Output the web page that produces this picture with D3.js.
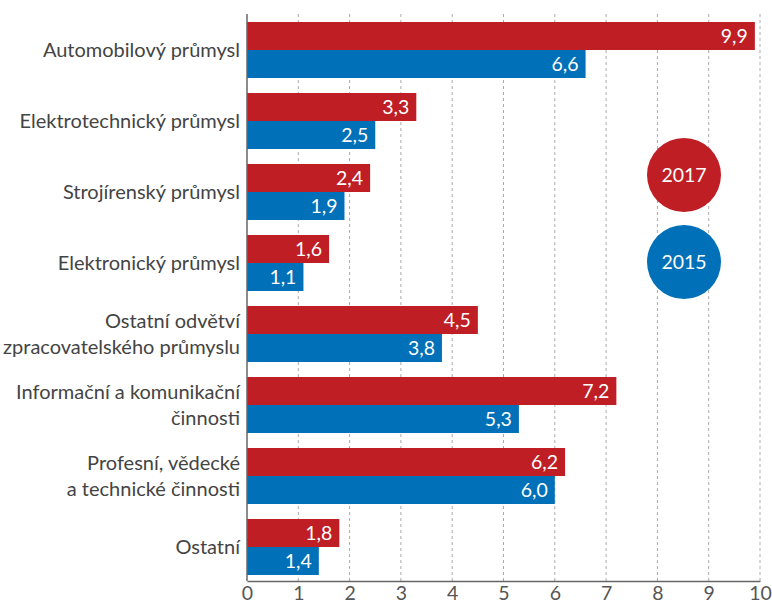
<!DOCTYPE html>
<html><head><meta charset="utf-8">
<script src="https://cdn.jsdelivr.net/npm/d3@7"></script>
<style>body{margin:0;background:#fff}svg{display:block}text{font-family:Lato,"Open Sans",sans-serif}</style>
</head><body><svg id="c" width="772" height="606"></svg>
<script>
const categories = [
  ["Automobilový průmysl"],
  ["Elektrotechnický průmysl"],
  ["Strojírenský průmysl"],
  ["Elektronický průmysl"],
  ["Ostatní odvětví","zpracovatelského průmyslu"],
  ["Informační a komunikační","činnosti"],
  ["Profesní, vědecké","a technické činnosti"],
  ["Ostatní"]
];
const series = ["2017","2015"];
const values2017 = [9.9,3.3,2.4,1.6,4.5,7.2,6.2,1.8];
const values2015 = [6.6,2.5,1.9,1.1,3.8,5.3,6.0,1.4];
const xTicks = [0,1,2,3,4,5,6,7,8,9,10];
const colors = {"2017":"#be1e24","2015":"#0070b8"};

(function(){
const svg = d3.select("#c");
const keys = categories.map(c=>c.join(" "));
const x = d3.scaleLinear().domain([0,10]).range([247,760]);
const y = d3.scaleBand().domain(keys).range([22,575]).paddingInner(15/71).paddingOuter(0);
const ys = d3.scaleBand().domain(series).range([0,y.bandwidth()]);
const plotTop = 14, plotBottom = 581;

svg.append("g").selectAll("line").data(xTicks.filter(d=>d>0)).join("line")
  .attr("x1",d=>x(d)).attr("x2",d=>x(d)).attr("y1",plotTop).attr("y2",plotBottom)
  .attr("stroke","#aaa").attr("stroke-width",1).attr("stroke-dasharray","3,3");

const data = [];
keys.forEach((k,i)=>{
  data.push({k,s:"2017",v:values2017[i]});
  data.push({k,s:"2015",v:values2015[i]});
});
const fmt = v=>d3.format(".1f")(v).replace(".",",");
const g = svg.append("g");
g.selectAll("rect").data(data).join("rect")
  .attr("x",x(0)).attr("y",d=>y(d.k)+ys(d.s)).attr("width",d=>x(d.v)-x(0))
  .attr("height",ys.bandwidth()).attr("fill",d=>colors[d.s]);
g.selectAll("text").data(data).join("text")
  .attr("x",d=>x(d.v)-7).attr("y",d=>y(d.k)+ys(d.s)+ys.bandwidth()/2)
  .attr("dy","0.36em").attr("text-anchor","end").attr("fill","#fff")
  .attr("font-size",19.5).text(d=>fmt(d.v));

const xa = svg.append("g").attr("transform",`translate(0,${plotBottom})`)
  .call(d3.axisBottom(x).tickValues(xTicks).tickSize(0).tickPadding(5).tickFormat(d3.format("d")));
xa.select(".domain").attr("stroke","#666").attr("stroke-width",1.5);
xa.selectAll("text").attr("font-size",19.5).attr("fill","#555").attr("font-family","Lato,sans-serif");
svg.append("line").attr("x1",x(0)).attr("x2",x(0)).attr("y1",plotTop).attr("y2",plotBottom)
  .attr("stroke","#666").attr("stroke-width",1.5);

categories.forEach((lines,i)=>{
  const cy = y(keys[i]) + y.bandwidth()/2;
  const lh = 26;
  const t = svg.append("text").attr("text-anchor","end").attr("fill","#444").attr("font-size",20);
  lines.forEach((ln,j)=>{
    t.append("tspan").attr("x",240).attr("y",cy + (j-(lines.length-1)/2)*lh).attr("dy","0.34em").text(ln);
  });
});

const leg = svg.append("g");
series.forEach((s,i)=>{
  const cy = 175 + i*87;
  leg.append("circle").attr("cx",684).attr("cy",cy).attr("r",37).attr("fill",colors[s]);
  leg.append("text").attr("x",684).attr("y",cy).attr("dy","0.36em").attr("text-anchor","middle")
    .attr("fill","#fff").attr("font-size",19.5).text(s);
});
})();
</script></body></html>
